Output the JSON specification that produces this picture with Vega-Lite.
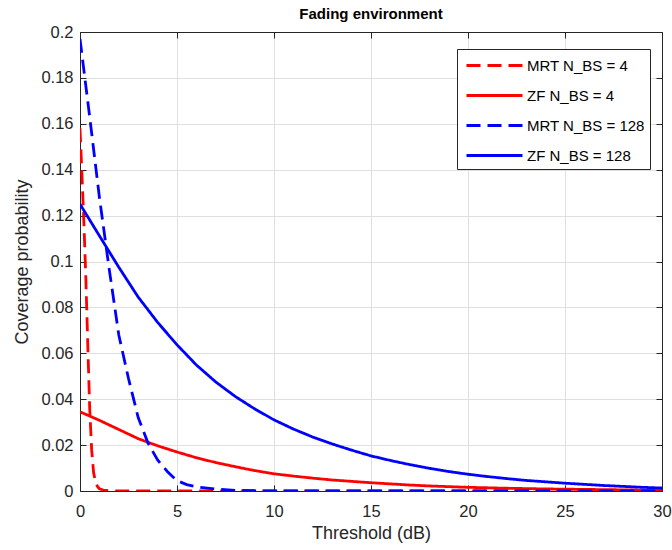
{
  "$schema": "https://vega.github.io/schema/vega-lite/v6.json",
  "width": 582,
  "height": 459,
  "autosize": {"type": "none"},
  "padding": {"left": 80, "top": 32, "right": 10, "bottom": 59},
  "background": "white",
  "title": {"text": "Fading environment", "fontSize": 15, "fontWeight": "bold", "font": "Liberation Sans", "color": "#000000", "anchor": "middle", "offset": 2},
  "config": {
    "font": "Liberation Sans",
    "view": {"stroke": null},
    "axis": {
      "domainColor": "#262626", "tickColor": "#262626", "labelColor": "#262626", "titleColor": "#262626",
      "gridColor": "#dfdfdf", "gridWidth": 1, "labelFontSize": 16.5, "titleFontSize": 18, "titleFontWeight": "normal",
      "tickSize": -6, "domainWidth": 1, "labelFlush": false
    }
  },
  "data": {"values": [
    {"s": "MRT N_BS = 4", "x": 0, "y": 0.158},
    {"s": "MRT N_BS = 4", "x": 0.1, "y": 0.138},
    {"s": "MRT N_BS = 4", "x": 0.2, "y": 0.117},
    {"s": "MRT N_BS = 4", "x": 0.3, "y": 0.093},
    {"s": "MRT N_BS = 4", "x": 0.4, "y": 0.064},
    {"s": "MRT N_BS = 4", "x": 0.5, "y": 0.036},
    {"s": "MRT N_BS = 4", "x": 0.6, "y": 0.018},
    {"s": "MRT N_BS = 4", "x": 0.7, "y": 0.008},
    {"s": "MRT N_BS = 4", "x": 0.8, "y": 0.004},
    {"s": "MRT N_BS = 4", "x": 0.9, "y": 0.002},
    {"s": "MRT N_BS = 4", "x": 1.0, "y": 0.001},
    {"s": "MRT N_BS = 4", "x": 1.2, "y": 0.0004},
    {"s": "MRT N_BS = 4", "x": 1.5, "y": 0.0001},
    {"s": "MRT N_BS = 4", "x": 2, "y": 0},
    {"s": "MRT N_BS = 4", "x": 5, "y": 0},
    {"s": "MRT N_BS = 4", "x": 10, "y": 0},
    {"s": "MRT N_BS = 4", "x": 15, "y": 0},
    {"s": "MRT N_BS = 4", "x": 20, "y": 0},
    {"s": "MRT N_BS = 4", "x": 25, "y": 0},
    {"s": "MRT N_BS = 4", "x": 30, "y": 0},
    {"s": "ZF N_BS = 4", "x": 0, "y": 0.0345},
    {"s": "ZF N_BS = 4", "x": 1, "y": 0.0308},
    {"s": "ZF N_BS = 4", "x": 2, "y": 0.0268},
    {"s": "ZF N_BS = 4", "x": 3, "y": 0.0228},
    {"s": "ZF N_BS = 4", "x": 4, "y": 0.0197},
    {"s": "ZF N_BS = 4", "x": 5, "y": 0.0170},
    {"s": "ZF N_BS = 4", "x": 6, "y": 0.0145},
    {"s": "ZF N_BS = 4", "x": 7, "y": 0.0124},
    {"s": "ZF N_BS = 4", "x": 8, "y": 0.0106},
    {"s": "ZF N_BS = 4", "x": 9, "y": 0.0089},
    {"s": "ZF N_BS = 4", "x": 10, "y": 0.0075},
    {"s": "ZF N_BS = 4", "x": 11, "y": 0.0065},
    {"s": "ZF N_BS = 4", "x": 12, "y": 0.0056},
    {"s": "ZF N_BS = 4", "x": 13, "y": 0.0048},
    {"s": "ZF N_BS = 4", "x": 14, "y": 0.0042},
    {"s": "ZF N_BS = 4", "x": 15, "y": 0.0036},
    {"s": "ZF N_BS = 4", "x": 16, "y": 0.0031},
    {"s": "ZF N_BS = 4", "x": 17, "y": 0.0026},
    {"s": "ZF N_BS = 4", "x": 18, "y": 0.0022},
    {"s": "ZF N_BS = 4", "x": 19, "y": 0.0019},
    {"s": "ZF N_BS = 4", "x": 20, "y": 0.0016},
    {"s": "ZF N_BS = 4", "x": 22, "y": 0.0012},
    {"s": "ZF N_BS = 4", "x": 24, "y": 0.0009},
    {"s": "ZF N_BS = 4", "x": 26, "y": 0.0007},
    {"s": "ZF N_BS = 4", "x": 28, "y": 0.0005},
    {"s": "ZF N_BS = 4", "x": 30, "y": 0.0003},
    {"s": "MRT N_BS = 128", "x": 0, "y": 0.197},
    {"s": "MRT N_BS = 128", "x": 0.5, "y": 0.163},
    {"s": "MRT N_BS = 128", "x": 1, "y": 0.128},
    {"s": "MRT N_BS = 128", "x": 1.5, "y": 0.097},
    {"s": "MRT N_BS = 128", "x": 2, "y": 0.068},
    {"s": "MRT N_BS = 128", "x": 2.5, "y": 0.049},
    {"s": "MRT N_BS = 128", "x": 3, "y": 0.032},
    {"s": "MRT N_BS = 128", "x": 3.5, "y": 0.021},
    {"s": "MRT N_BS = 128", "x": 4, "y": 0.0135},
    {"s": "MRT N_BS = 128", "x": 4.5, "y": 0.0085},
    {"s": "MRT N_BS = 128", "x": 5, "y": 0.0045},
    {"s": "MRT N_BS = 128", "x": 5.5, "y": 0.0028},
    {"s": "MRT N_BS = 128", "x": 6, "y": 0.0018},
    {"s": "MRT N_BS = 128", "x": 7, "y": 0.0008},
    {"s": "MRT N_BS = 128", "x": 8, "y": 0.0003},
    {"s": "MRT N_BS = 128", "x": 9, "y": 0.0001},
    {"s": "MRT N_BS = 128", "x": 10, "y": 0},
    {"s": "MRT N_BS = 128", "x": 15, "y": 0},
    {"s": "MRT N_BS = 128", "x": 20, "y": 0},
    {"s": "MRT N_BS = 128", "x": 25, "y": 0},
    {"s": "MRT N_BS = 128", "x": 30, "y": 0},
    {"s": "ZF N_BS = 128", "x": 0, "y": 0.125},
    {"s": "ZF N_BS = 128", "x": 1, "y": 0.1112},
    {"s": "ZF N_BS = 128", "x": 2, "y": 0.0975},
    {"s": "ZF N_BS = 128", "x": 3, "y": 0.0845},
    {"s": "ZF N_BS = 128", "x": 4, "y": 0.0735},
    {"s": "ZF N_BS = 128", "x": 5, "y": 0.0637},
    {"s": "ZF N_BS = 128", "x": 6, "y": 0.0549},
    {"s": "ZF N_BS = 128", "x": 7, "y": 0.0475},
    {"s": "ZF N_BS = 128", "x": 8, "y": 0.0412},
    {"s": "ZF N_BS = 128", "x": 9, "y": 0.0358},
    {"s": "ZF N_BS = 128", "x": 10, "y": 0.031},
    {"s": "ZF N_BS = 128", "x": 11, "y": 0.027},
    {"s": "ZF N_BS = 128", "x": 12, "y": 0.0235},
    {"s": "ZF N_BS = 128", "x": 13, "y": 0.0205},
    {"s": "ZF N_BS = 128", "x": 14, "y": 0.0178},
    {"s": "ZF N_BS = 128", "x": 15, "y": 0.0153},
    {"s": "ZF N_BS = 128", "x": 16, "y": 0.0133},
    {"s": "ZF N_BS = 128", "x": 17, "y": 0.0115},
    {"s": "ZF N_BS = 128", "x": 18, "y": 0.0099},
    {"s": "ZF N_BS = 128", "x": 19, "y": 0.0085},
    {"s": "ZF N_BS = 128", "x": 20, "y": 0.0073},
    {"s": "ZF N_BS = 128", "x": 21, "y": 0.0063},
    {"s": "ZF N_BS = 128", "x": 22, "y": 0.0054},
    {"s": "ZF N_BS = 128", "x": 23, "y": 0.0046},
    {"s": "ZF N_BS = 128", "x": 24, "y": 0.0040},
    {"s": "ZF N_BS = 128", "x": 25, "y": 0.0034},
    {"s": "ZF N_BS = 128", "x": 26, "y": 0.0029},
    {"s": "ZF N_BS = 128", "x": 27, "y": 0.0024},
    {"s": "ZF N_BS = 128", "x": 28, "y": 0.0020},
    {"s": "ZF N_BS = 128", "x": 29, "y": 0.0016},
    {"s": "ZF N_BS = 128", "x": 30, "y": 0.0013}
  ]},
  "layer": [
    {
      "mark": {"type": "line", "strokeWidth": 2.8, "clip": true},
      "encoding": {
        "x": {"field": "x", "type": "quantitative", "scale": {"domain": [0, 30], "nice": false},
              "axis": {"title": "Threshold (dB)", "values": [0, 5, 10, 15, 20, 25, 30], "grid": true, "labelPadding": 18, "titlePadding": 5}},
        "y": {"field": "y", "type": "quantitative", "scale": {"domain": [0, 0.2], "nice": false},
              "axis": {"title": "Coverage probability", "values": [0, 0.02, 0.04, 0.06, 0.08, 0.1, 0.12, 0.14, 0.16, 0.18, 0.2], "format": "~g", "grid": true, "labelPadding": 13, "titlePadding": 9}},
        "color": {"field": "s", "type": "nominal",
                  "scale": {"domain": ["MRT N_BS = 4", "ZF N_BS = 4", "MRT N_BS = 128", "ZF N_BS = 128"], "range": ["#ff0000", "#ff0000", "#0000ff", "#0000ff"]},
                  "legend": {"title": null, "orient": "none", "legendX": 377, "legendY": 17, "symbolType": "M-1,0H4.6", "symbolStrokeWidth": 3, "symbolSize": 400, "rowPadding": 10, "labelFontSize": 15, "labelColor": "#000000", "strokeColor": "#262626", "fillColor": "#ffffff", "padding": 5, "symbolOffset": 3, "labelOffset": 39}},
        "strokeDash": {"field": "s", "type": "nominal",
                  "scale": {"domain": ["MRT N_BS = 4", "ZF N_BS = 4", "MRT N_BS = 128", "ZF N_BS = 128"], "range": [[14, 7], [1, 0], [14, 7], [1, 0]]},
                  "legend": {"title": null, "orient": "none", "legendX": 377, "legendY": 17, "symbolType": "M-1,0H4.6", "symbolStrokeWidth": 3, "symbolSize": 400, "rowPadding": 10, "labelFontSize": 15, "labelColor": "#000000", "strokeColor": "#262626", "fillColor": "#ffffff", "padding": 5, "symbolOffset": 3, "labelOffset": 39}},
        "order": {"field": "x", "type": "quantitative"}
      }
    },
    {
      "mark": {"type": "point", "opacity": 0},
      "encoding": {
        "x": {"field": "x", "type": "quantitative", "axis": {"orient": "top", "labels": false, "title": null, "grid": false, "values": [0, 5, 10, 15, 20, 25, 30]}},
        "y": {"field": "y", "type": "quantitative", "axis": {"orient": "right", "labels": false, "title": null, "grid": false, "values": [0, 0.02, 0.04, 0.06, 0.08, 0.1, 0.12, 0.14, 0.16, 0.18, 0.2]}}
      }
    }
  ],
  "resolve": {"axis": {"x": "independent", "y": "independent"}}
}
